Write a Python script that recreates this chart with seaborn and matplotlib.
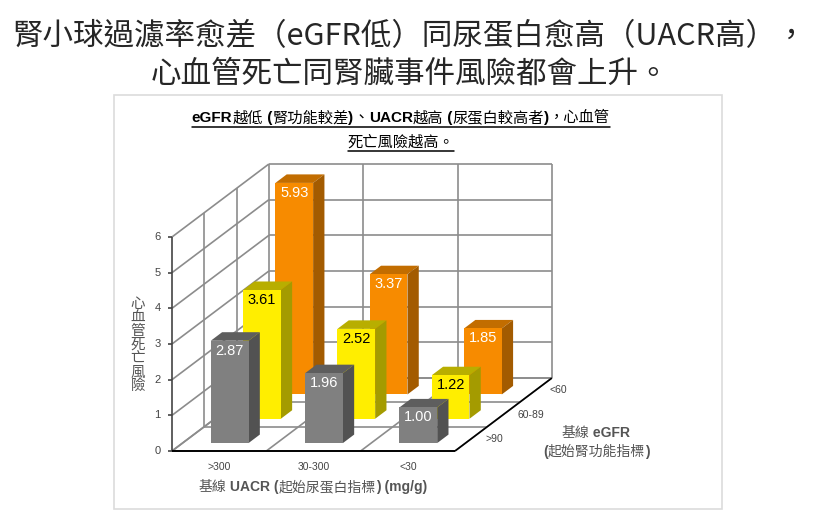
import re
import matplotlib
matplotlib.use('Agg')
import matplotlib.pyplot as plt
from matplotlib.patches import Polygon, Rectangle
from matplotlib.offsetbox import TextArea, HPacker, AnnotationBbox
import seaborn as sns

# Data
uacr_labels = ['>300', '30-300', '<30']
egfr_labels = ['>90', '60-89', '<60']
risk_egfr_gt90 = [2.87, 1.96, 1.00]
risk_egfr_60_89 = [3.61, 2.52, 1.22]
risk_egfr_lt60 = [5.93, 3.37, 1.85]
y_ticks = [0, 1, 2, 3, 4, 5, 6]

rows = [risk_egfr_gt90, risk_egfr_60_89, risk_egfr_lt60]

sns.set_theme(style='white')
plt.rcParams['font.family'] = ['Noto Sans CJK TC', 'DejaVu Sans']
latin_cjk = ['Liberation Sans', 'Noto Sans CJK TC']

# front, top, side colours per eGFR row
colors = {
    0: ('#808080', '#5e5e5e', '#525252'),
    1: ('#ffee00', '#b8ae00', '#a49b00'),
    2: ('#f78b00', '#c26d00', '#a35b00'),
}
label_color = {0: 'white', 1: 'black', 2: 'white'}

W, H = 820, 530
fig = plt.figure(figsize=(W / 100, H / 100), dpi=100)
ax = fig.add_axes([0, 0, 1, 1])

# oblique projection: pixels per category / per unit, depth shift per row
px_x, px_y = 94.33, 35.67
ox, oy = 172, 451
kx, ky = 32.3 / px_x, 24.33 / px_y
ax.set_xlim(-ox / px_x, (W - ox) / px_x)
ax.set_ylim(-(H - oy) / px_y, oy / px_y)
ax.axis('off')


def proj(c, d, v):
    return c + d * kx, v + d * ky


def seg(p, q, **kw):
    ax.plot([p[0], q[0]], [p[1], q[1]], solid_capstyle='butt', **kw)


CJK = r'[\u3000-\u303f\u3400-\u9fff\uff00-\uffef]+'


def mixed_text(s, x, y, size, color):
    # latin bold, CJK regular (as in the source chart)
    parts = []
    for run in re.findall(CJK + r'|[^\u3000-\u303f\u3400-\u9fff\uff00-\uffef]+', s):
        cjk = re.fullmatch(CJK, run) is not None
        parts.append(TextArea(run, textprops=dict(
            fontsize=size, color=color, family=latin_cjk,
            weight='normal' if cjk else 'bold')))
    box = HPacker(children=parts, pad=0, sep=0, align='baseline')
    ab = AnnotationBbox(box, (x / W, 1 - y / H), xycoords='figure fraction',
                        frameon=False, box_alignment=(0.5, 0.5), pad=0)
    fig.add_artist(ab)
    return ab


ncol, nrow, vmax = len(uacr_labels), len(egfr_labels), y_ticks[-1]
grid = dict(color='#8c8c8c', lw=1.2, zorder=1)

# walls and floor
for v in y_ticks:
    seg(proj(0, 0, v), proj(0, nrow, v), **grid)
    seg(proj(0, nrow, v), proj(ncol, nrow, v), **grid)
for d in range(1, nrow + 1):
    seg(proj(0, d, 0), proj(0, d, vmax), **grid)
    seg(proj(0, d, 0), proj(ncol, d, 0), **grid)
for c in range(0, ncol + 1):
    seg(proj(c, 0, 0), proj(c, nrow, 0), **grid)
    if c > 0:
        seg(proj(c, nrow, 0), proj(c, nrow, vmax), **grid)

seg(proj(0, 0, 0), proj(0, 0, vmax), color='#444444', lw=1.2, zorder=2)
seg(proj(0, 0, 0), proj(ncol, 0, 0), color='black', lw=1.4, zorder=2)
seg(proj(ncol, 0, 0), proj(ncol, nrow, 0), color='black', lw=1.2, zorder=2)

for v in y_ticks:
    seg((-0.045, v), (0, v), color='#444444', lw=1.2, zorder=2)
    ax.text(-0.12, v, str(v), ha='right', va='center', fontsize=8,
            color='#444444', family=latin_cjk)

# bars, back row first
bw, bd = 0.4, 0.35
z = 3
for r in reversed(range(nrow)):
    front, top, side = colors[r]
    for c, val in enumerate(rows[r]):
        x0, x1 = c + (1 - bw) / 2, c + (1 + bw) / 2
        d0, d1 = r + (1 - bd) / 2, r + (1 + bd) / 2
        ax.add_patch(Polygon([proj(x0, d0, val), proj(x1, d0, val),
                              proj(x1, d1, val), proj(x0, d1, val)],
                             closed=True, fc=top, ec='none', zorder=z))
        ax.add_patch(Polygon([proj(x1, d0, 0), proj(x1, d1, 0),
                              proj(x1, d1, val), proj(x1, d0, val)],
                             closed=True, fc=side, ec='none', zorder=z))
        fx, fy = proj(x0, d0, 0)
        ax.bar(fx, val, width=bw, bottom=fy, align='edge', color=front,
               edgecolor='none', zorder=z + 0.5)
        ax.text(fx + bw / 2, fy + val - 10 / px_y, f'{val:.2f}', ha='center',
                va='center', fontsize=10.5, color=label_color[r],
                family=latin_cjk, zorder=z + 1)
        z += 2

# category labels
for c, lab in enumerate(uacr_labels):
    ax.text(c + 0.5, -0.45, lab, ha='center', va='center', fontsize=7.5,
            color='#444444', family=latin_cjk)
for r, lab in enumerate(egfr_labels):
    x, y = proj(ncol, r + 0.5, 0)
    ax.text(x + 0.15, y, lab, ha='left', va='center', fontsize=7.5,
            color='#444444', family=latin_cjk)

mixed_text('基線 UACR (起始尿蛋白指標) (mg/g)', 313, 487, 10, '#555555')
mixed_text('基線 eGFR', 596, 433, 10, '#555555')
mixed_text('(起始腎功能指標)', 596, 452, 10, '#555555')
ax.text((138 - ox) / px_x, (oy - 345) / px_y, '\n'.join('心血管死亡風險'),
        ha='center', va='center', fontsize=10.5, color='#555555',
        linespacing=0.98)

# box around the chart
fig.patches.append(Rectangle((114 / W, 1 - 509 / H), (722 - 114) / W, (509 - 95) / H,
                             transform=fig.transFigure, fill=False,
                             ec='#dcdcdc', lw=1.2))

# headline
fig.text(0.5, 1 - 37 / H, '腎小球過濾率愈差（eGFR低）同尿蛋白愈高（UACR高），',
         ha='center', va='center', fontsize=22, weight='light')
fig.text(0.5, 1 - 74 / H, '心血管死亡同腎臟事件風險都會上升。',
         ha='center', va='center', fontsize=22, weight='light')

# underlined subtitle
renderer = fig.canvas.get_renderer()
for txt, yp in [('eGFR越低 (腎功能較差)、UACR越高 (尿蛋白較高者)，心血管', 118),
                ('死亡風險越高。', 142)]:
    ab = mixed_text(txt, 401, yp, 11, 'black')
    bb = ab.get_window_extent(renderer).transformed(fig.transFigure.inverted())
    uy = 1 - (yp + 9) / H
    fig.add_artist(plt.Line2D([bb.x0, bb.x1], [uy, uy], color='black', lw=1.1,
                              transform=fig.transFigure))

fig.savefig('out.png', dpi=100)
